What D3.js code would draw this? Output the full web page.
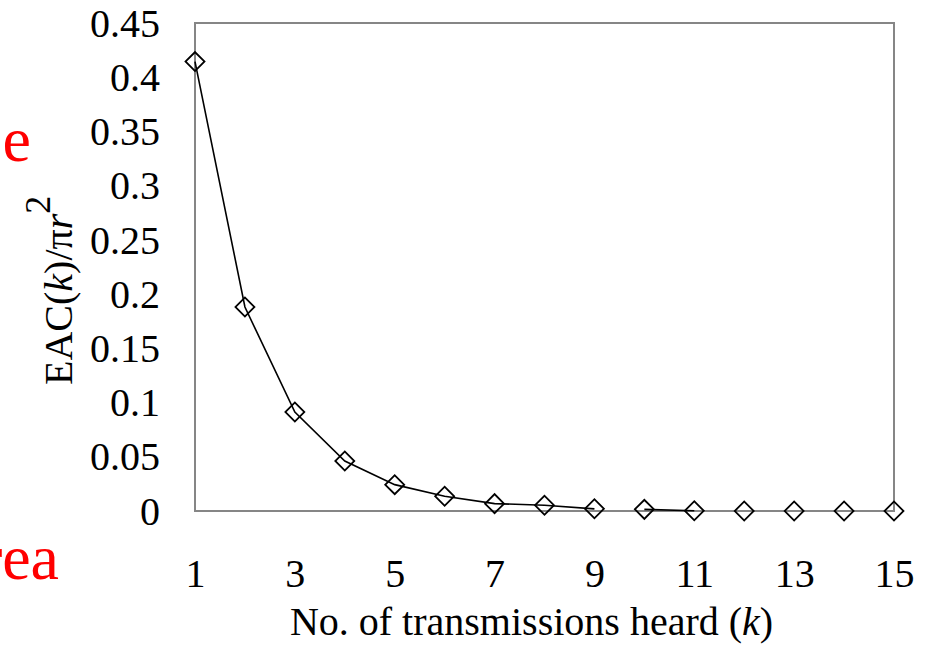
<!DOCTYPE html>
<html>
<head>
<meta charset="utf-8">
<script src="https://cdn.jsdelivr.net/npm/d3@7"></script>
<style>
  html, body { margin: 0; padding: 0; background: #fff; }
  svg { display: block; font-family: "Liberation Serif", "Times New Roman", serif; }
</style>
</head>
<body>
<svg id="chart" width="933" height="646"></svg>
<script>
// ---- data ----
const kValues = [1, 2, 3, 4, 5, 6, 7, 8, 9, 10, 11, 12, 13, 14, 15];
const eacValues = [0.4144, 0.1881, 0.0913, 0.0461, 0.0243, 0.0136, 0.0068, 0.0053, 0.0020, 0.0015, 0.0002, 0, 0, 0, 0];
const lineSegments = [[1, 9], [10, 11]];   // k ranges joined by the line
const xTicks = [1, 3, 5, 7, 9, 11, 13, 15];
const yTicks = [0, 0.05, 0.1, 0.15, 0.2, 0.25, 0.3, 0.35, 0.4, 0.45];
const xTitle = "No. of transmissions heard (";
const sideTextTop = "e";
const sideTextBottom = "rea";

// ---- layout ----
const svg = d3.select("#chart");
const mLeft = 195, mRight = 894, mTop = 23, mBottom = 511;
const serif = "'Liberation Serif', 'Times New Roman', serif";

const x = d3.scaleLinear().domain([1, 15]).range([mLeft, mRight]);
const y = d3.scaleLinear().domain([0, 0.45]).range([mBottom, mTop]);

const points = kValues.map((k, i) => ({ k, v: eacValues[i] }));

// frame
svg.append("rect")
  .attr("x", mLeft).attr("y", mTop)
  .attr("width", mRight - mLeft).attr("height", mBottom - mTop)
  .attr("fill", "none").attr("stroke", "#868686").attr("stroke-width", 2);

// y axis labels
const yAxis = d3.axisLeft(y).tickValues(yTicks).tickSize(0).tickPadding(35)
  .tickFormat(d => String(+d.toFixed(2)));
const yG = svg.append("g").attr("transform", `translate(${mLeft},0)`).call(yAxis)
  .attr("font-family", serif);
yG.select(".domain").remove();
yG.selectAll("text")
  .attr("font-family", serif)
  .attr("font-size", 40).attr("fill", "#000").attr("dy", "0.33em");

// x axis labels
const xAxis = d3.axisBottom(x).tickValues(xTicks).tickSize(0).tickPadding(0)
  .tickFormat(d3.format("d"));
const xG = svg.append("g").attr("transform", `translate(0,${mBottom})`).call(xAxis)
  .attr("font-family", serif);
xG.select(".domain").remove();
xG.selectAll("text")
  .attr("font-family", serif)
  .attr("font-size", 40).attr("fill", "#000").attr("dy", null).attr("y", 76);

// line
const line = d3.line().x(d => x(d.k)).y(d => y(d.v));
lineSegments.forEach(([a, b]) => {
  svg.append("path")
    .datum(points.filter(p => p.k >= a && p.k <= b))
    .attr("d", line)
    .attr("fill", "none").attr("stroke", "#000").attr("stroke-width", 1.6);
});

// diamond markers
const sym = d3.symbol().type(d3.symbolSquare).size(180);
svg.append("g").selectAll("path")
  .data(points).join("path")
  .attr("d", sym)
  .attr("transform", d => `translate(${x(d.k)},${y(d.v)}) rotate(45)`)
  .attr("fill", "none").attr("stroke", "#000").attr("stroke-width", 1.8);

// x title
const xt = svg.append("text")
  .attr("x", (mLeft + mRight) / 2 - 13).attr("y", 635)
  .attr("font-family", serif)
  .attr("text-anchor", "middle").attr("font-size", 40).attr("fill", "#000");
xt.append("tspan").text(xTitle);
xt.append("tspan").attr("font-style", "italic").text("k");
xt.append("tspan").text(")");

// y title
const yt = svg.append("text")
  .attr("transform", "translate(72,385) rotate(-90)")
  .attr("font-family", serif)
  .attr("text-anchor", "start").attr("font-size", 40).attr("fill", "#000");
yt.append("tspan").text("EAC(");
yt.append("tspan").attr("font-style", "italic").text("k");
yt.append("tspan").text(")/π");
yt.append("tspan").attr("font-style", "italic").text("r");
yt.append("tspan").attr("font-size", 36).attr("dy", -22).text("2");

// red side texts (cut off at left edge)
svg.append("text").attr("x", 31).attr("y", 161)
  .attr("font-family", serif)
  .attr("text-anchor", "end").attr("font-size", 64).attr("fill", "#ff0000")
  .text(sideTextTop);
svg.append("text").attr("x", 59).attr("y", 579)
  .attr("font-family", serif)
  .attr("text-anchor", "end").attr("font-size", 64).attr("fill", "#ff0000")
  .text(sideTextBottom);
</script>
</body>
</html>
